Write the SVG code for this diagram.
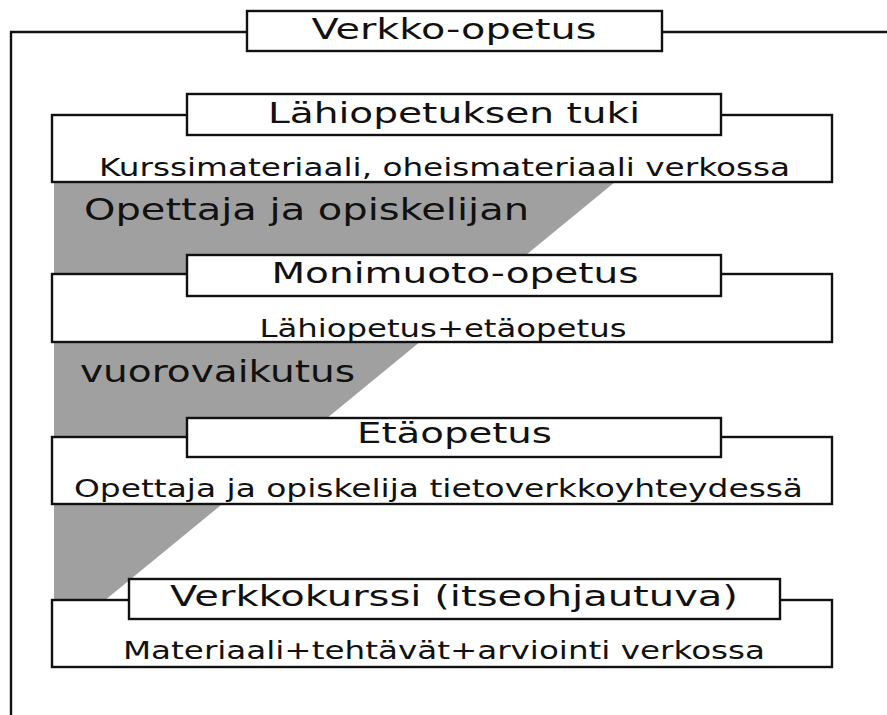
<svg xmlns="http://www.w3.org/2000/svg" width="887" height="715" viewBox="0 0 887 715">
<style>
.box{fill:#fff;stroke:#111;stroke-width:2.4}
.ln{fill:none;stroke:#111;stroke-width:2.4}
text{font-family:"DejaVu Sans","Verdana",sans-serif;fill:#111;text-anchor:middle}
.h{font-size:29px}
.b{font-size:24px}
.g{font-size:30px;text-anchor:start}
</style>
<rect width="887" height="715" fill="#fff"/>
<g id="frame">
<path class="ln" d="M11,715 V32 H247 M662,32 H887"/>
</g>
<g id="interaction">
<polygon points="54,182 615,182 54,642" fill="#a0a0a0"/>
<text class="g" x="84" y="220" textLength="445" lengthAdjust="spacingAndGlyphs">Opettaja ja opiskelijan</text>
<text class="g" x="80" y="382" textLength="275" lengthAdjust="spacingAndGlyphs">vuorovaikutus</text>
</g>
<g id="verkko-opetus">
<rect class="box" x="247" y="11" width="415" height="40"/>
<text class="h" x="454" y="39" font-size="30" textLength="285" lengthAdjust="spacingAndGlyphs">Verkko-opetus</text>
</g>
<g id="lahiopetuksen-tuki">
<rect class="box" x="52" y="115" width="780" height="67"/>
<rect class="box" x="187" y="94" width="534" height="41"/>
<text class="h" x="454" y="123" textLength="372" lengthAdjust="spacingAndGlyphs">Lähiopetuksen tuki</text>
<text class="b" x="444.5" y="176" textLength="691" lengthAdjust="spacingAndGlyphs">Kurssimateriaali, oheismateriaali verkossa</text>
</g>
<g id="monimuoto-opetus">
<rect class="box" x="52" y="274" width="780" height="68"/>
<rect class="box" x="187" y="255" width="534" height="41"/>
<text class="h" x="455" y="283" textLength="367" lengthAdjust="spacingAndGlyphs">Monimuoto-opetus</text>
<text class="b" x="443" y="337" textLength="367" lengthAdjust="spacingAndGlyphs">Lähiopetus+etäopetus</text>
</g>
<g id="etaopetus">
<rect class="box" x="52" y="437" width="780" height="67"/>
<rect class="box" x="187" y="418" width="534" height="39"/>
<text class="h" x="454.5" y="443" textLength="195" lengthAdjust="spacingAndGlyphs">Etäopetus</text>
<text class="b" x="438.5" y="497" textLength="729" lengthAdjust="spacingAndGlyphs">Opettaja ja opiskelija tietoverkkoyhteydessä</text>
</g>
<g id="verkkokurssi">
<rect class="box" x="52" y="600" width="780" height="67"/>
<rect class="box" x="129" y="579" width="651" height="40"/>
<text class="h" x="454" y="606" textLength="568" lengthAdjust="spacingAndGlyphs">Verkkokurssi (itseohjautuva)</text>
<text class="b" x="444" y="659" textLength="642" lengthAdjust="spacingAndGlyphs">Materiaali+tehtävät+arviointi verkossa</text>
</g>
</svg>
